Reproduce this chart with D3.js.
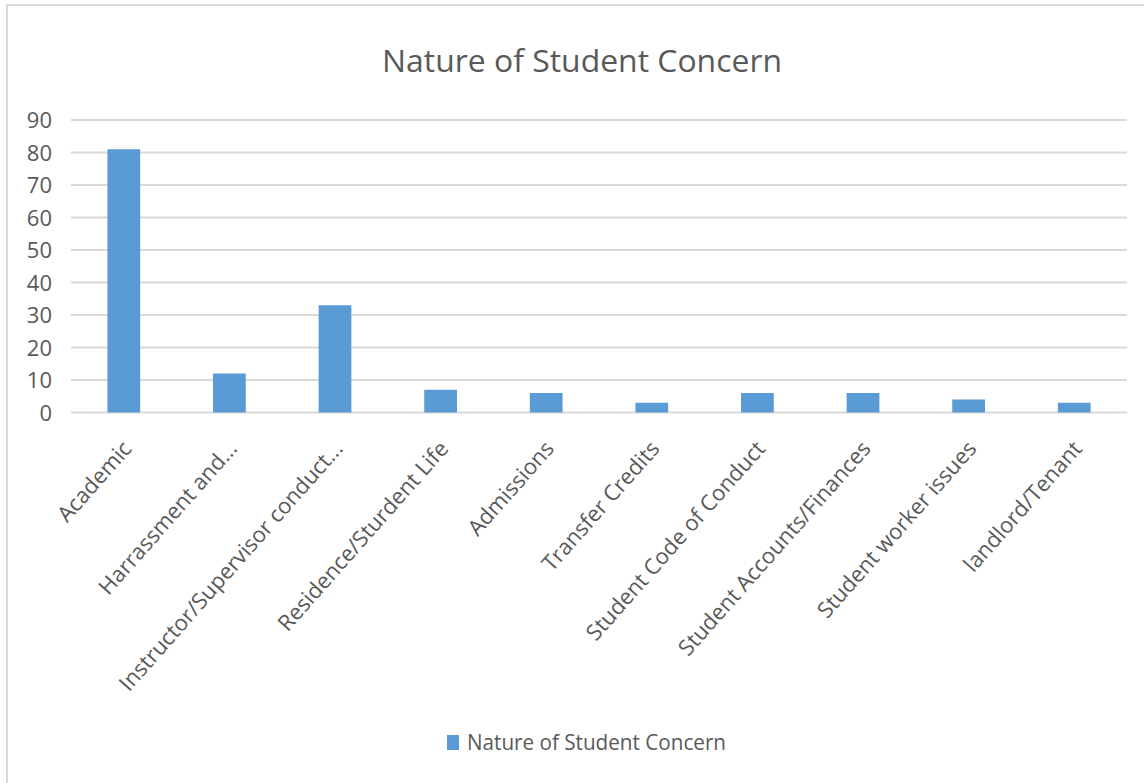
<!DOCTYPE html>
<meta charset="utf-8">
<script src="https://d3js.org/d3.v7.min.js"></script>
<style>
  body { margin: 0; background: #fff; }
  text { font-family: "Open Sans", sans-serif; fill: #595959; }
</style>
<body>
<script>

// data
var categories = ["Academic", "Harrassment and...", "Instructor/Supervisor conduct...", "Residence/Sturdent Life",
    "Admissions", "Transfer Credits", "Student Code of Conduct", "Student Accounts/Finances",
    "Student worker issues", "landlord/Tenant"];
var values = [81, 12, 33, 7, 6, 3, 6, 6, 4, 3];
var yTicks = [0, 10, 20, 30, 40, 50, 60, 70, 80, 90];
var seriesName = "Nature of Student Concern";
var title = "Nature of Student Concern";

var width = 1144, height = 783;
var plot = {left: 71, right: 1127, top: 120, bottom: 412.5};
var barColor = "#5b9bd5";

var svg = d3.select("body").append("svg")
    .attr("width", width)
    .attr("height", height);

// chart border (only top and left visible in the picture)
svg.append("rect")
    .attr("x", 7).attr("y", 5)
    .attr("width", width + 20).attr("height", height + 20)
    .attr("fill", "#fff")
    .attr("stroke", "#d9d9d9").attr("stroke-width", 2);

var x = d3.scaleBand().domain(categories).range([plot.left, plot.right]).paddingInner(0.69).paddingOuter(0.345);
var y = d3.scaleLinear().domain([0, 90]).range([plot.bottom, plot.top]);

// gridlines
svg.append("g").selectAll("line")
    .data(yTicks).enter().append("line")
    .attr("x1", plot.left).attr("x2", plot.right)
    .attr("y1", function(d) { return y(d); })
    .attr("y2", function(d) { return y(d); })
    .attr("stroke", "#d9d9d9").attr("stroke-width", 2);

// y axis labels
var yAxis = d3.axisLeft(y).tickValues(yTicks).tickSize(0).tickPadding(0);
var gy = svg.append("g").attr("transform", "translate(52,0)").call(yAxis);
gy.select(".domain").remove();
gy.selectAll("text").style("font-size", "22px").attr("fill", "#595959")
    .attr("dy", "0.36em");

// bars
svg.append("g").selectAll("rect")
    .data(values).enter().append("rect")
    .attr("x", function(d, i) { return x(categories[i]); })
    .attr("y", function(d) { return y(d); })
    .attr("width", x.bandwidth())
    .attr("height", function(d) { return y(0) - y(d); })
    .attr("fill", barColor);

// x labels, rotated
svg.append("g").selectAll("text")
    .data(categories).enter().append("text")
    .attr("transform", function(d) {
        return "translate(" + (x(d) + x.bandwidth() / 2 + 9) + "," + (plot.bottom + 37) + ") rotate(-48.5)";
    })
    .attr("text-anchor", "end")
    .style("font-size", "22px")
    .text(function(d) { return d; });

// title
svg.append("text")
    .attr("x", 582).attr("y", 72)
    .attr("text-anchor", "middle")
    .style("font-size", "31px")
    .attr("textLength", 400).attr("lengthAdjust", "spacingAndGlyphs")
    .text(title);

// legend
var legend = svg.append("g").attr("transform", "translate(447,735)");
legend.append("rect").attr("width", 12).attr("height", 15).attr("fill", barColor);
legend.append("text").attr("x", 20).attr("y", 15)
    .style("font-size", "21px")
    .attr("textLength", 259).attr("lengthAdjust", "spacingAndGlyphs")
    .text(seriesName);

</script>
</body>
</html>
